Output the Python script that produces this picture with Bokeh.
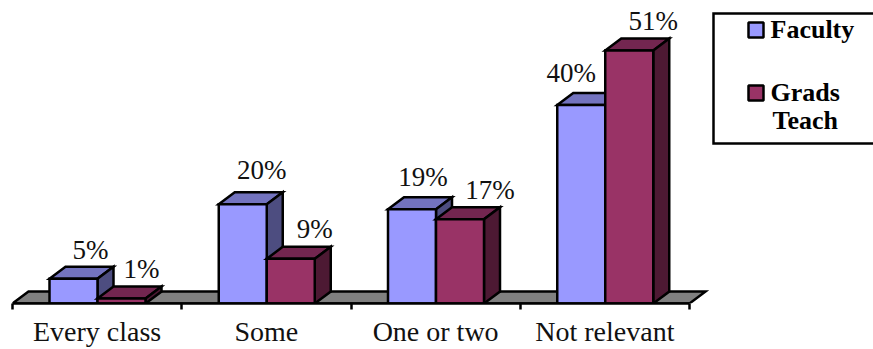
from bokeh.core.properties import value
from bokeh.embed import file_html
from bokeh.models import FixedTicker, LinearAxis, Range1d
from bokeh.plotting import figure
from bokeh.resources import INLINE

categories = ["Every class", "Some", "One or two", "Not relevant"]
series_names = ["Faculty", "Grads"]
faculty = [5, 20, 19, 40]
grads = [1, 9, 17, 51]

# Hand placement of the value labels, in pixels from each bar's top front centre
faculty_label_dx = [17, 19, 11, -10]
faculty_label_dy = [29, 34, 32, 32]
grads_label_dx = [20, 24, 30, 24]
grads_label_dy = [30, 30, 29, 30]

SERIF = value("Liberation Serif")
W, H = 873, 349
LEFT, BASE = 12, 303
PX_PER_CAT = 169.25
PX_PER_PCT = 4.96
DX = 16 / PX_PER_CAT     # depth of the extruded bars
DY = 12 / PX_PER_PCT
BAR = 48 / PX_PER_CAT
GAP = 37 / PX_PER_CAT

p = figure(width=W, height=H, output_backend="svg", toolbar_location=None,
           x_range=Range1d(0, (W - LEFT) / PX_PER_CAT),
           y_range=Range1d(0, BASE / PX_PER_PCT),
           x_axis_location=None, y_axis_location=None,
           min_border_left=LEFT, min_border_right=0, min_border_top=0,
           min_border_bottom=0, background_fill_color="white",
           border_fill_color="white")
p.grid.visible = False
p.outline_line_color = None

n = len(categories)
# Grey floor of the chart
p.patch([0, n, n + DX, DX], [0, 0, DY, DY], fill_color="#808080",
        line_color="black", line_width=2.5, line_join="miter")


def box(x0, v, front, top, side):
    x1 = x0 + BAR
    p.patch([x0, x1, x1 + DX, x0 + DX], [v, v, v + DY, v + DY], fill_color=top,
            line_color="black", line_width=2.5, line_join="miter")
    p.patch([x1, x1 + DX, x1 + DX, x1], [0, DY, v + DY, v], fill_color=side,
            line_color="black", line_width=2.5, line_join="miter")
    p.quad(left=[x0], right=[x1], bottom=[0], top=[v], fill_color=front,
           line_color="black", line_width=2.5, line_join="miter")


for i in range(n):
    box(i + GAP, faculty[i], "#9999FF", "#7373BF", "#4D4D80")
    box(i + GAP + BAR, grads[i], "#993366", "#732650", "#4D1933")

p.text(x=[i + GAP + BAR / 2 for i in range(n)], y=faculty,
       text=[f"{v}%" for v in faculty], x_offset=faculty_label_dx,
       y_offset=[-d for d in faculty_label_dy], text_font=SERIF,
       text_font_size="27px", text_color="#111111",
       text_align="center", text_baseline="alphabetic")
p.text(x=[i + GAP + BAR * 1.5 for i in range(n)], y=grads,
       text=[f"{v}%" for v in grads], x_offset=grads_label_dx,
       y_offset=[-d for d in grads_label_dy], text_font=SERIF,
       text_font_size="27px", text_color="#111111",
       text_align="center", text_baseline="alphabetic")

# Category axis: ticks mark group boundaries, labels sit at group centres
centres = [i + 0.5 for i in range(n)]
axis = LinearAxis(
    ticker=FixedTicker(ticks=centres, minor_ticks=list(range(n + 1))),
    major_label_overrides={c: t for c, t in zip(centres, categories)},
    bounds=(0, n), axis_line_color="black", axis_line_width=2.5,
    major_tick_line_color=None, major_tick_out=0, major_tick_in=0,
    minor_tick_line_color="black", minor_tick_line_width=2.5,
    minor_tick_out=6, minor_tick_in=0, major_label_standoff=6,
    major_label_text_font="Liberation Serif",
    major_label_text_font_size="28px", major_label_text_color="#111111",
)
p.add_layout(axis, "below")


def xd(px):
    return (px - LEFT) / PX_PER_CAT


def yd(px):
    return (BASE - px) / PX_PER_PCT


# Legend box, running off the right side of the page
p.quad(left=[xd(713)], right=[xd(900)], top=[yd(13)], bottom=[yd(143)],
       fill_color="white", line_color="black", line_width=2.5, line_join="miter")
p.quad(left=[xd(748)], right=[xd(763)], top=[yd(22)], bottom=[yd(37)],
       fill_color="#9999FF", line_color="black", line_width=2.5)
p.quad(left=[xd(748)], right=[xd(763)], top=[yd(85)], bottom=[yd(100)],
       fill_color="#993366", line_color="black", line_width=2.5)
p.text(x=[xd(770), xd(770), xd(772)], y=[yd(29), yd(92), yd(120)],
       text=["Faculty", "Grads", "Teach"], text_font=SERIF,
       text_font_size="26px", text_font_style="bold", text_color="black",
       text_align="left", text_baseline="alphabetic")

open("out.html", "w").write(file_html(p, INLINE))
